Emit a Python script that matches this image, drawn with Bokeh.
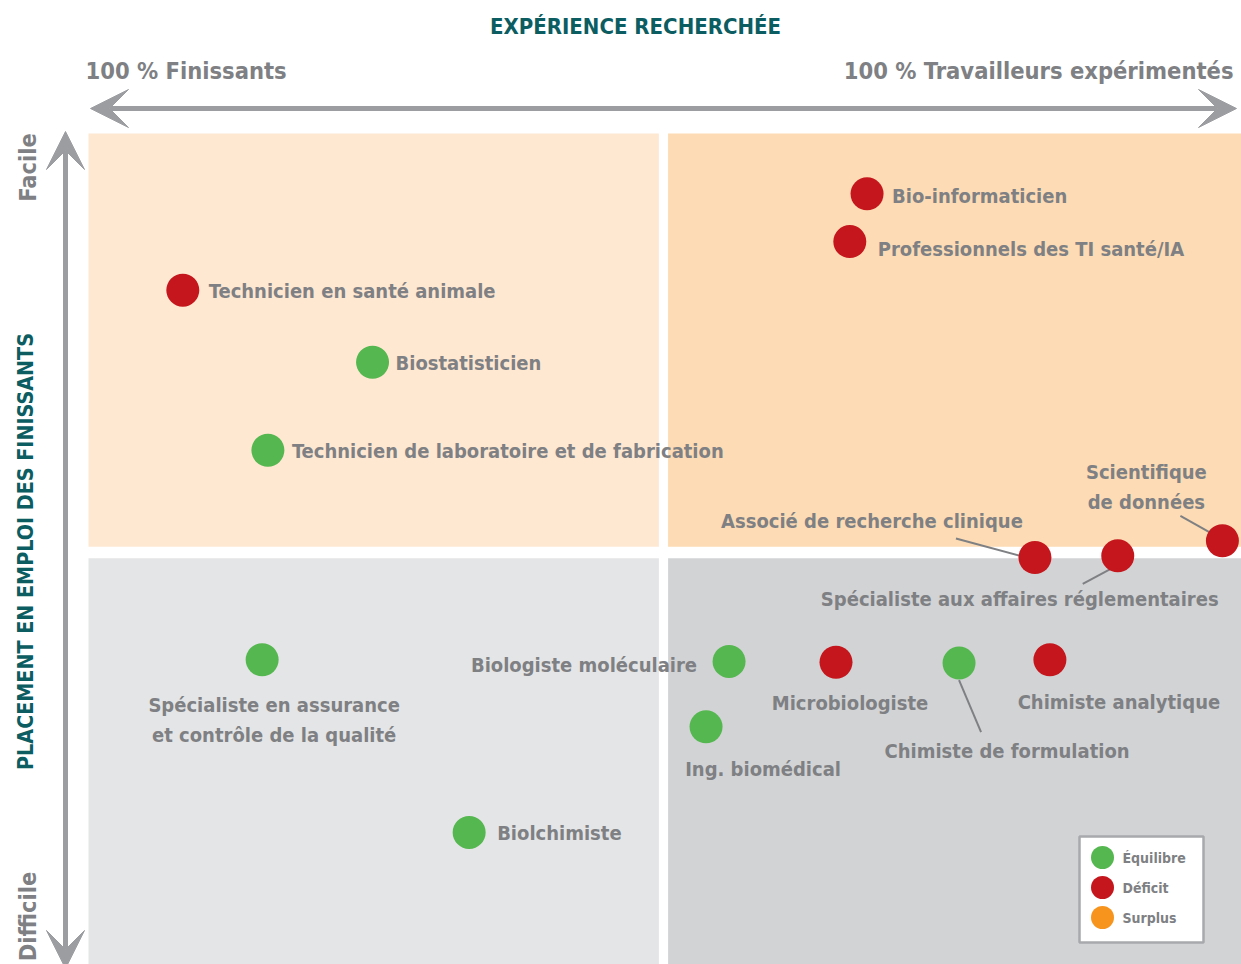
import math
from bokeh.plotting import figure
from bokeh.models import Range1d, ColumnDataSource, Arrow, VeeHead
from bokeh.core.properties import value
from bokeh.embed import file_html
from bokeh.resources import INLINE

# ---------------- data ----------------
# x: share of experienced workers sought (0 = 100 % finissants, 100 = 100 % travailleurs expérimentés)
# y: ease of placement of graduates (0 = difficile, 100 = facile)
jobs = [
    "Bio-informaticien",
    "Professionnels des TI santé/IA",
    "Technicien en santé animale",
    "Biostatisticien",
    "Technicien de laboratoire et de fabrication",
    "Scientifique\nde données",
    "Associé de recherche clinique",
    "Spécialiste aux affaires réglementaires",
    "Spécialiste en assurance\net contrôle de la qualité",
    "Biologiste moléculaire",
    "Microbiologiste",
    "Chimiste de formulation",
    "Chimiste analytique",
    "Ing. biomédical",
    "Biolchimiste",
]
experience = [67.7, 66.2, 8.2, 24.7, 15.6, 98.6, 82.3, 89.5, 15.1, 55.7, 65.0, 75.7, 83.6, 53.7, 33.1]
placement = [92.8, 87.1, 81.3, 72.7, 62.2, 51.4, 49.4, 49.6, 37.2, 37.0, 36.9, 36.8, 37.2, 29.2, 16.6]
status = ["Déficit", "Déficit", "Déficit", "Équilibre", "Équilibre", "Déficit", "Déficit", "Déficit",
          "Équilibre", "Équilibre", "Déficit", "Équilibre", "Déficit", "Équilibre", "Équilibre"]

legend_labels = ["Équilibre", "Déficit", "Surplus"]

# quadrants (left, right, bottom, top) in data units
q_left = [0, 50.4, 0, 50.4]
q_right = [49.6, 101, 49.6, 101]
q_bottom = [50.7, 50.7, -5, -5]
q_top = [100, 100, 49.3, 49.3]

# ---------------- styles ----------------
COLORS = {"Équilibre": "#55B74F", "Déficit": "#C4161C", "Surplus": "#F7941D"}
Q_COLORS = ["#FEE8D2", "#FDDBB4", "#E4E5E6", "#D2D3D5"]
GRAY = "#7E8083"
ARROW_GRAY = "#9C9DA0"
TEAL = "#0B5D62"
FONT = value("'Liberation Sans Narrow', 'DejaVu Sans Condensed', sans-serif")

# label placement: (align, dx, dy) in screen pixels from the point
label_pos = [
    ("left", 25, 2), ("left", 28, 7), ("left", 26, 1), ("left", 23, 1), ("left", 24, 1),
    ("center", -76, -54), ("center", -163, -37), ("center", -98, 43), ("center", 12, 60),
    ("right", -32, 4), ("center", 14, 41), ("center", 48, 88), ("center", 69, 42),
    ("center", 57, 42), ("left", 28, 1),
]
# leader lines: (index, dx0, dy0, dx1, dy1) in screen pixels
leaders = [(5, -42, -25, -10, -7), (6, -79, -19, -12, -1), (7, -35, 28, -7, 13), (11, 22, 69, 0, 17)]

# pixel <-> data helpers (linear scales)
SX = 11.5   # px per x unit
SY = 8.38   # px per y unit
X0PX = 88
Y0PX = 971


def dx(px):
    return (px - X0PX) / SX


def dy(py):
    return (Y0PX - py) / SY


W, H = 1241, 964
p = figure(width=W, height=H, output_backend="svg", toolbar_location=None,
           x_range=Range1d(dx(0), dx(W)), y_range=Range1d(dy(H), dy(0)),
           min_border=0, outline_line_color=None)
p.axis.visible = False
p.grid.visible = False
p.background_fill_color = "white"
p.border_fill_color = "white"

# quadrants
p.quad(left=q_left, right=q_right, bottom=q_bottom, top=q_top, fill_color=Q_COLORS, line_color=None)

# leader lines
lx0, ly0, lx1, ly1 = [], [], [], []
for i, a, b, c, d in leaders:
    lx0.append(experience[i] + a / SX)
    ly0.append(placement[i] - b / SY)
    lx1.append(experience[i] + c / SX)
    ly1.append(placement[i] - d / SY)
p.segment(x0=lx0, y0=ly0, x1=lx1, y1=ly1, line_color=GRAY, line_width=2)

# points
src = ColumnDataSource(dict(x=experience, y=placement, c=[COLORS[s] for s in status]))
p.scatter("x", "y", source=src, size=33, fill_color="c", line_color=None)

# labels
for align in ("left", "center", "right"):
    idx = [i for i, lp in enumerate(label_pos) if lp[0] == align]
    s = ColumnDataSource(dict(
        x=[experience[i] for i in idx], y=[placement[i] for i in idx],
        t=[jobs[i] for i in idx],
        xo=[label_pos[i][1] for i in idx], yo=[label_pos[i][2] for i in idx]))
    p.text("x", "y", text="t", source=s, x_offset="xo", y_offset="yo",
           text_align=align, text_baseline="middle", text_font=FONT,
           text_font_style="bold", text_font_size="20px", text_color=GRAY,
           text_line_height=1.25)

# axis arrows
p.add_layout(Arrow(x_start=dx(90), y_start=dy(108), x_end=dx(1236), y_end=dy(108),
                   line_color=ARROW_GRAY, line_width=5,
                   start=VeeHead(size=38, fill_color=ARROW_GRAY, line_color=ARROW_GRAY, line_width=1),
                   end=VeeHead(size=38, fill_color=ARROW_GRAY, line_color=ARROW_GRAY, line_width=1)))
p.add_layout(Arrow(x_start=dx(65), y_start=dy(131), x_end=dx(65), y_end=dy(968),
                   line_color=ARROW_GRAY, line_width=5,
                   start=VeeHead(size=38, fill_color=ARROW_GRAY, line_color=ARROW_GRAY, line_width=1),
                   end=VeeHead(size=38, fill_color=ARROW_GRAY, line_color=ARROW_GRAY, line_width=1)))

# titles
p.text(x=[dx(635)], y=[dy(26)], text=["EXPÉRIENCE RECHERCHÉE"], text_align="center",
       text_baseline="middle", text_font=FONT, text_font_style="bold",
       text_font_size="22px", text_color=TEAL)
p.text(x=[dx(85)], y=[dy(70)], text=["100 % Finissants"], text_align="left",
       text_baseline="middle", text_font=FONT, text_font_style="bold",
       text_font_size="23.5px", text_color=GRAY)
p.text(x=[dx(1233)], y=[dy(70)], text=["100 % Travailleurs expérimentés"], text_align="right",
       text_baseline="middle", text_font=FONT, text_font_style="bold",
       text_font_size="23.5px", text_color=GRAY)
p.text(x=[dx(27)], y=[dy(167)], text=["Facile"], angle=math.pi / 2, text_align="center",
       text_baseline="middle", text_font=FONT, text_font_style="bold",
       text_font_size="23.5px", text_color=GRAY)
p.text(x=[dx(27)], y=[dy(916)], text=["Difficile"], angle=math.pi / 2, text_align="center",
       text_baseline="middle", text_font=FONT, text_font_style="bold",
       text_font_size="23.5px", text_color=GRAY)
p.text(x=[dx(25)], y=[dy(551)], text=["PLACEMENT EN EMPLOI DES FINISSANTS"], angle=math.pi / 2,
       text_align="center", text_baseline="middle", text_font=FONT, text_font_style="bold",
       text_font_size="21.3px", text_color=TEAL)

# legend box
p.quad(left=[dx(1079)], right=[dx(1203)], bottom=[dy(942)], top=[dy(836)],
       fill_color="white", line_color="#A8A9AC", line_width=2.5)
leg_y = [dy(857), dy(887), dy(917)]
p.scatter(x=[dx(1102)] * 3, y=leg_y, size=23, fill_color=[COLORS[k] for k in legend_labels], line_color=None)
p.text(x=[dx(1122)] * 3, y=leg_y, text=legend_labels, text_align="left", text_baseline="middle",
       text_font=FONT, text_font_style="bold", text_font_size="14px", text_color=GRAY)

open("out.html", "w").write(file_html(p, INLINE))
